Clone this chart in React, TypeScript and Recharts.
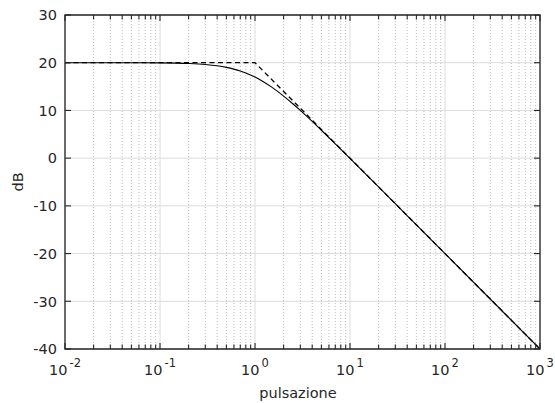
import React from 'react';
import { LineChart, Line, XAxis, YAxis, CartesianGrid, ReferenceArea, Label } from 'recharts';

// Frequency response
const omega = [0.01, 0.05, 0.1, 0.2, 0.3, 0.4, 0.5, 0.6, 0.7, 0.8, 1, 1.2, 1.5, 2, 2.5, 3, 4, 5, 7, 10, 15, 20, 30, 50, 100, 1000];
const magDb = [20, 19.99, 19.96, 19.83, 19.63, 19.36, 19.03, 18.66, 18.27, 17.85, 16.99, 16.13, 14.88, 13.01, 11.4, 10, 7.7, 5.85, 3.01, -0.04, -3.54, -6.03, -9.55, -13.98, -20, -40];

// Asymptotic approximation (dashed)
const asymOmega = [0.01, 1, 1000];
const asymDb = [20, 20, -40];

// Axis ticks
const xMajor = [0.01, 0.1, 1, 10, 100, 1000];
const xExponents = ['-2', '-1', '0', '1', '2', '3'];
const xMinorMult = [2, 3, 4, 5, 6, 7, 8, 9];
const xMinor = xMajor.slice(0, -1).flatMap((d) => xMinorMult.map((m) => +(d * m).toPrecision(6)));
const xAllTicks = [...xMajor, ...xMinor].sort((a, b) => a - b);
const yTicks = [-40, -30, -20, -10, 0, 10, 20, 30];

const curveData = omega.map((w, i) => ({ w, db: magDb[i] }));
const asymData = asymOmega.map((w, i) => ({ w, db: asymDb[i] }));

const PLOT = { left: 65, top: 15, right: 540, bottom: 349 };
const INK = '#262626';
const FONT = 'DejaVu Sans';

const isMajorTick = (v: number) => xMajor.indexOf(v) >= 0;

const XTick = (props: any) => {
  const { x, payload } = props;
  const v = payload.value;
  const idx = xMajor.indexOf(v);
  const major = idx >= 0;
  const len = major ? 6 : 4.5;
  return (
    <g>
      <line x1={x} x2={x} y1={PLOT.bottom} y2={PLOT.bottom - len} stroke={INK} strokeWidth={1.1} />
      <line x1={x} x2={x} y1={PLOT.top} y2={PLOT.top + len} stroke={INK} strokeWidth={1.1} />
      {major && (
        <text x={x} y={375} textAnchor="middle" fontFamily={FONT} fontSize={14.5} fill={INK}>
          <tspan>10</tspan>
          <tspan dx={2} dy={-8} fontSize={11.5}>{xExponents[idx]}</tspan>
        </text>
      )}
    </g>
  );
};

const YTick = (props: any) => {
  const { y, payload } = props;
  return (
    <g>
      <line x1={PLOT.left} x2={PLOT.left + 6} y1={y} y2={y} stroke={INK} strokeWidth={1.1} />
      <line x1={PLOT.right} x2={PLOT.right - 6} y1={y} y2={y} stroke={INK} strokeWidth={1.1} />
      <text x={57} y={y} dy="0.36em" textAnchor="end" fontFamily={FONT} fontSize={14.5} fill={INK}>
        {payload.value}
      </text>
    </g>
  );
};

const VGrid = (p: any) => {
  const v = xAllTicks[p.index];
  const major = v !== undefined && isMajorTick(v);
  return (
    <line
      key={p.key}
      x1={p.x1}
      x2={p.x2}
      y1={p.y1}
      y2={p.y2}
      stroke={major ? '#dcdcdc' : '#bdbdbd'}
      strokeWidth={1}
      strokeDasharray={major ? undefined : '1 2'}
    />
  );
};

const HGrid = (p: any) => (
  <line key={p.key} x1={p.x1} x2={p.x2} y1={p.y1} y2={p.y2} stroke="#dcdcdc" strokeWidth={1} />
);

export default function App() {
  return (
    <div style={{ position: 'absolute', left: 0, top: 0, background: '#fff' }}>
      <LineChart width={555} height={403} margin={{ top: 15, right: 15, bottom: 0, left: 0 }}>
        <CartesianGrid vertical={VGrid} horizontal={HGrid} />
        <XAxis
          dataKey="w"
          type="number"
          scale="log"
          domain={[0.01, 1000]}
          ticks={xAllTicks}
          interval={0}
          tick={<XTick />}
          tickLine={false}
          axisLine={false}
          height={54}
          allowDataOverflow
        >
          <Label
            content={() => (
              <text x={298} y={398} textAnchor="middle" fontFamily={FONT} fontSize={14.5} fill={INK}>
                pulsazione
              </text>
            )}
          />
        </XAxis>
        <YAxis
          type="number"
          domain={[-40, 30]}
          ticks={yTicks}
          interval={0}
          tick={<YTick />}
          tickLine={false}
          axisLine={false}
          width={65}
          allowDataOverflow
        >
          <Label
            content={() => (
              <text
                x={18}
                y={182}
                transform="rotate(-90 18 182)"
                dy="0.36em"
                textAnchor="middle"
                fontFamily={FONT}
                fontSize={14.5}
                fill={INK}
              >
                dB
              </text>
            )}
          />
        </YAxis>
        <ReferenceArea x1={0.01} x2={1000} y1={-40} y2={30} fill="none" stroke={INK} strokeWidth={1.3} />
        <Line
          data={asymData}
          dataKey="db"
          type="linear"
          stroke="#000"
          strokeWidth={1.3}
          strokeDasharray="5 3.5"
          dot={false}
          isAnimationActive={false}
        />
        <Line
          data={curveData}
          dataKey="db"
          type="monotone"
          stroke="#000"
          strokeWidth={1.1}
          dot={false}
          isAnimationActive={false}
        />
      </LineChart>
    </div>
  );
}
